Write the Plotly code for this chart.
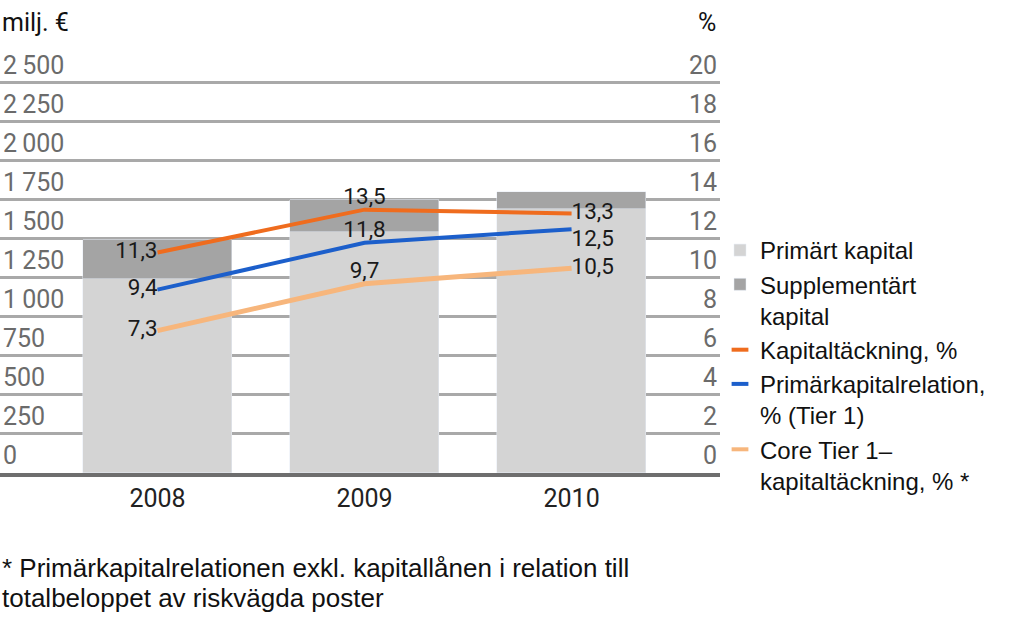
import plotly.graph_objects as go

years = ["2008", "2009", "2010"]
primart = [1240, 1545, 1690]
supplementart = [250, 205, 110]
kapitaltackning = [11.3, 13.5, 13.3]
primarkapitalrelation = [9.4, 11.8, 12.5]
core_tier1 = [7.3, 9.7, 10.5]

left_ticks = [0, 250, 500, 750, 1000, 1250, 1500, 1750, 2000, 2250, 2500]
left_ticktext = ["0", "250", "500", "750", "1\u2009000", "1\u2009250", "1\u2009500",
                 "1\u2009750", "2\u2009000", "2\u2009250", "2\u2009500"]
right_ticks = [0, 2, 4, 6, 8, 10, 12, 14, 16, 18, 20]

c_orange = "#EF6C1E"
c_blue = "#1C5FCB"
c_peach = "#F7B67C"
c_light = "#D4D4D4"
c_dark = "#A4A4A4"

def fmt(v):
    return f"{v:.1f}".replace(".", ",")

pos_default = ["middle left", "top center", "middle right"]
pos_blue = ["middle left", "top center", "bottom right"]
num_font = dict(family="Roboto, DejaVu Sans, sans-serif", size=22.5, color="#1a1a1a")

fig = go.Figure()
fig.add_trace(go.Bar(x=years, y=primart, name="Primärt kapital", marker_color=c_light,
                     width=0.72, yaxis="y"))
fig.add_trace(go.Bar(x=years, y=supplementart, name="Supplementärt<br>kapital",
                     marker_color=c_dark, width=0.72, yaxis="y"))

for vals, col, w, nm, pos in [
        (kapitaltackning, c_orange, 4, "Kapitaltäckning, %", pos_default),
        (primarkapitalrelation, c_blue, 4, "Primärkapitalrelation,<br>% (Tier 1)", pos_blue),
        (core_tier1, c_peach, 5, "Core Tier 1–<br>kapitaltäckning, % *", pos_default)]:
    fig.add_trace(go.Scatter(x=years, y=vals, mode="lines+text", yaxis="y2",
                             line=dict(color=col, width=w), text=[fmt(v) for v in vals],
                             textposition=pos, textfont=num_font, showlegend=False,
                             cliponaxis=False))
    fig.add_trace(go.Scatter(x=[None], y=[None], mode="markers", name=nm, yaxis="y2",
                             marker=dict(symbol="line-ew-open", size=12, color=col,
                                         line=dict(color=col, width=4))))

tick_font = dict(family="Roboto, DejaVu Sans, sans-serif", size=25, color="#6b6b6b")

TOP = 36
BOT = 152
ph = 625 - TOP - BOT
note_font = dict(family="Liberation Sans, Arial, sans-serif", size=26, color="#111")

fig.update_layout(
    width=1024, height=625,
    margin=dict(l=0, r=304, t=TOP, b=BOT, autoexpand=False),
    paper_bgcolor="white", plot_bgcolor="white",
    barmode="stack", bargap=0,
    xaxis=dict(range=[-0.761, 2.717], showgrid=False, showline=True, linecolor="#6e6e6e",
               linewidth=4, ticks="", automargin=False,
               tickfont=dict(family="Roboto, DejaVu Sans, sans-serif", size=25, color="#222"),
               zeroline=False),
    yaxis=dict(range=[0, 2800], tickvals=left_ticks, ticktext=left_ticktext, automargin=False,
               ticklabelposition="inside top", tickfont=tick_font, showgrid=True,
               gridcolor="#a9a9a9", gridwidth=2.5, zeroline=False, showline=False, ticks=""),
    yaxis2=dict(range=[0, 22.4], tickvals=right_ticks, overlaying="y", side="right",
                automargin=False,
                ticklabelposition="inside top", tickfont=tick_font, showgrid=False,
                zeroline=False, showline=False, ticks=""),
    legend=dict(x=1.0, y=(473 - 228) / ph, xanchor="left", yanchor="top", traceorder="normal",
                font=dict(family="Liberation Sans, Arial, sans-serif", size=24, color="#111"),
                tracegroupgap=0, bgcolor="rgba(0,0,0,0)", valign="top", itemwidth=30),
    annotations=[
        dict(text="milj. €", x=0, y=(473 - 22) / ph, xref="paper", yref="paper", showarrow=False,
             xanchor="left", yanchor="middle",
             font=dict(family="Roboto, DejaVu Sans, sans-serif", size=25, color="#111")),
        dict(text="%", x=718 / 720, y=(473 - 22) / ph, xref="paper", yref="paper", showarrow=False,
             xanchor="right", yanchor="middle",
             font=dict(family="Roboto, DejaVu Sans, sans-serif", size=25, color="#111")),
        dict(text="* Primärkapitalrelationen exkl. kapitallånen i relation till",
             x=0, y=(473 - 568) / ph, xref="paper", yref="paper", showarrow=False, align="left",
             xanchor="left", yanchor="middle", font=note_font),
        dict(text="totalbeloppet av riskvägda poster",
             x=0, y=(473 - 598) / ph, xref="paper", yref="paper", showarrow=False, align="left",
             xanchor="left", yanchor="middle", font=note_font),
    ],
)

fig.write_html("out.html", config={"displayModeBar": False},
               post_script="document.body.style.margin='0';document.body.style.padding='0';")
